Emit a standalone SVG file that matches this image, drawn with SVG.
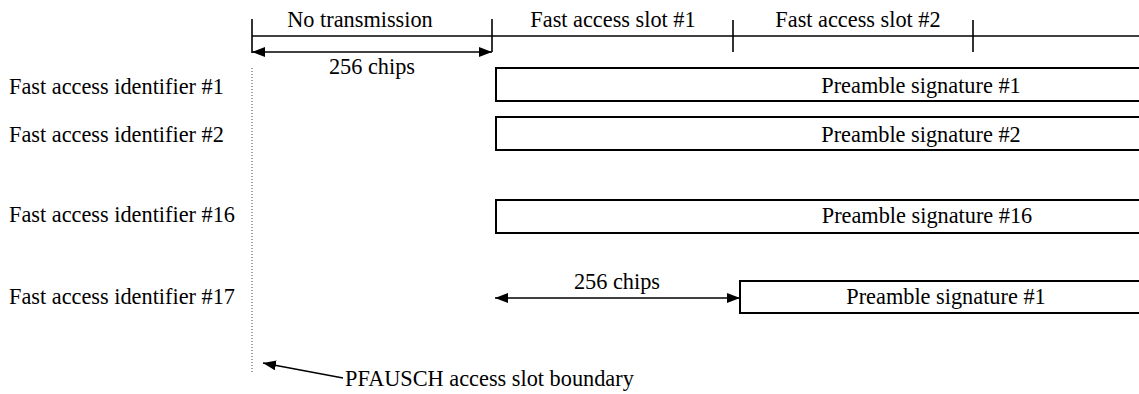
<svg xmlns="http://www.w3.org/2000/svg" width="1139" height="394" viewBox="0 0 1139 394" font-family="Liberation Serif, Times New Roman, Times, serif">
<style>
text{font-size:22.3px;fill:#000}
.ln{stroke:#000;stroke-width:1.6;fill:none}
.box{stroke:#000;stroke-width:2;fill:#fff}
.mid{text-anchor:middle}
</style>
<defs>
<marker id="ah" viewBox="0 0 13 10" refX="13" refY="5" markerWidth="13" markerHeight="10" markerUnits="userSpaceOnUse" orient="auto-start-reverse">
<path d="M0,0 L13,5 L0,10 Z" fill="#000"/>
</marker>
</defs>
<g id="timeline">
<line class="ln" x1="252" y1="36" x2="1139" y2="36"/>
<line class="ln" x1="252" y1="19" x2="252" y2="53"/>
<line class="ln" x1="492" y1="19" x2="492" y2="52"/>
<line class="ln" x1="733" y1="20" x2="733" y2="52"/>
<line class="ln" x1="973" y1="20" x2="973" y2="52"/>
<text class="mid" x="360" y="27" font-family="Liberation Serif, serif">No transmission</text>
<text class="mid" x="613" y="27" font-family="Liberation Serif, serif">Fast access slot #1</text>
<text class="mid" x="858" y="27" font-family="Liberation Serif, serif">Fast access slot #2</text>
</g>
<g id="labels" font-family="Liberation Serif, serif">
<text x="9" y="94">Fast access identifier #1</text>
<text x="9" y="142">Fast access identifier #2</text>
<text x="9" y="222">Fast access identifier #16</text>
<text x="9" y="304">Fast access identifier #17</text>
</g>
<g id="sig1" font-family="Liberation Serif, serif"><rect class="box" x="496" y="68" width="660" height="33"/><text class="mid" x="921" y="93">Preamble signature #1</text></g>
<g id="sig2" font-family="Liberation Serif, serif"><rect class="box" x="496" y="117" width="660" height="33"/><text class="mid" x="921" y="142">Preamble signature #2</text></g>
<g id="sig16" font-family="Liberation Serif, serif"><rect class="box" x="496" y="200" width="660" height="33"/><text class="mid" x="927" y="223">Preamble signature #16</text></g>
<g id="sig17" font-family="Liberation Serif, serif"><rect class="box" x="740" y="281" width="416" height="32"/><text class="mid" x="946" y="304">Preamble signature #1</text></g>
<g id="boundary" font-family="Liberation Serif, serif">
<line x1="252" y1="68" x2="252" y2="374" stroke="#444" stroke-width="1" stroke-dasharray="1,2"/>
<text x="345" y="386">PFAUSCH access slot boundary</text>
</g>
<g id="connectors" font-family="Liberation Serif, serif">
<line class="ln" x1="252" y1="52" x2="492" y2="52" marker-start="url(#ah)" marker-end="url(#ah)"/>
<text class="mid" x="372" y="74">256 chips</text>
<line class="ln" x1="495" y1="298" x2="740" y2="298" marker-start="url(#ah)" marker-end="url(#ah)"/>
<text class="mid" x="617" y="289">256 chips</text>
<line class="ln" x1="343" y1="378" x2="263" y2="363" marker-end="url(#ah)"/>
</g>
</svg>
